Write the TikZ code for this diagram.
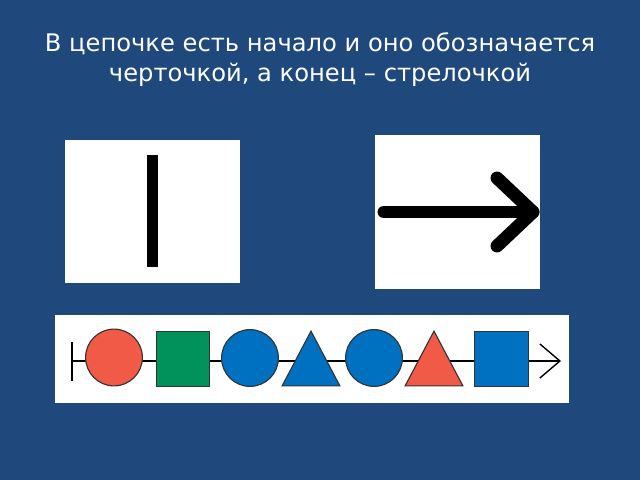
\documentclass[tikz,border=0pt]{standalone}
\usepackage{fontspec}
\setmainfont{DejaVu Sans}
\usetikzlibrary{arrows.meta,shapes.geometric}
\definecolor{slideblue}{RGB}{31,73,125}
\definecolor{beadred}{RGB}{240,90,70}
\definecolor{beadgreen}{RGB}{0,146,90}
\definecolor{beadblue}{RGB}{0,112,192}
\newcommand{\pxbox}[4]% x1, y1, x2, y2
{(#1,#2) rectangle (#3,#4)
}

\begin{document}
\begin{tikzpicture}[x=0.025cm,y=-0.025cm,
    bead/.style={draw=black!80,line width=0.8pt,inner sep=0pt},
    ball/.style={bead,circle,minimum size=57*0.7087pt},
    cube/.style={bead,rectangle,minimum width=54*0.7087pt,minimum height=55*0.7087pt},
    tri/.style={bead,isosceles triangle,isosceles triangle stretches,
      shape border rotate=90,minimum width=58*0.7087pt,minimum height=55*0.7087pt}]
  \fill[slideblue] \pxbox{0}{0}{640}{480};
  \node[text=white,font=\fontsize{17.2}{21.5}\selectfont,align=center] (title) at (320,60)
    {В цепочке есть начало и оно обозначается\\черточкой, а конец – стрелочкой};
  % the two cards
  \fill[white] \pxbox{65}{140}{240}{283};
  \fill[white] \pxbox{375}{135}{540}{289};
  \draw[line width=11*0.7087pt] (152.5,155) -- (152.5,267);
  \draw[line width=13*0.7087pt,line cap=round,line join=round] (384,212) -- (533,212);
  \draw[line width=13*0.7087pt,line cap=round,line join=round] (497,178) -- (533,212) -- (497,246);
  % the chain
  \fill[white] \pxbox{55}{315}{569}{403};
  \coordinate (beg) at (72,361);
  \coordinate (end) at (561,361);
  \draw[line width=3*0.7087pt] (72,342) -- (72,381);
  \draw[line width=1.4*0.7087pt,-{Straight Barb[length=20*0.25mm,width=34*0.25mm,line width=1.4*0.7087pt]}] (beg) -- (end);
  \node[ball,fill=beadred] (b1) at (114,357.5) {};
  \node[cube,fill=beadgreen] (b2) at (183,359) {};
  \node[ball,fill=beadblue] (b3) at (250,358) {};
  \node[tri,fill=beadblue] (b4) at (311,368.5) {};
  \node[ball,fill=beadblue] (b5) at (374,358) {};
  \node[tri,fill=beadred] (b6) at (434,368.5) {};
  \node[cube,fill=beadblue] (b7) at (501.5,359) {};
\end{tikzpicture}
\end{document}
